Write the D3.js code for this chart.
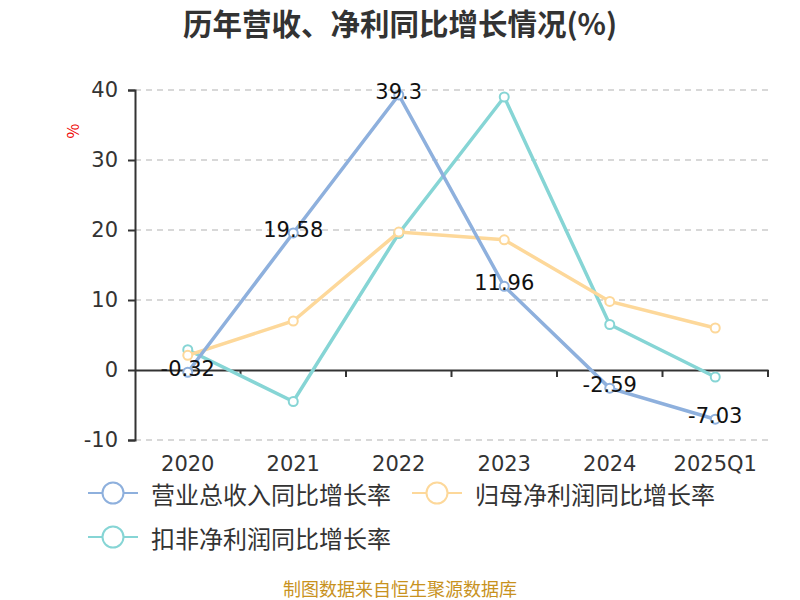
<!DOCTYPE html>
<html>
<head>
<meta charset="utf-8">
<script src="https://cdn.jsdelivr.net/npm/d3@7"></script>
<style>
body { margin: 0; background: #fff; }
text { font-family: "Noto Sans CJK SC", "Noto Sans", sans-serif; }
.num { font-family: "DejaVu Sans", "Noto Sans CJK SC", sans-serif; }
</style>
</head>
<body>
<div id="chart"></div>
<script>
// data
var categories = ["2020", "2021", "2022", "2023", "2024", "2025Q1"];
var revenue = [-0.32, 19.58, 39.3, 11.96, -2.59, -7.03];
var netProfit = [2.1, 7.0, 19.7, 18.6, 9.8, 6.0];
var deductedProfit = [2.9, -4.5, 19.5, 39.0, 6.5, -1.0];
var seriesNames = ["营业总收入同比增长率", "归母净利润同比增长率", "扣非净利润同比增长率"];
var yTicks = [-10, 0, 10, 20, 30, 40];

var colors = ["#8eb0dd", "#fdd89a", "#86d5d5"];
var w = 800, h = 600;
var margin = {left: 135, right: 32, top: 90, bottom: 160};

var svg = d3.select("#chart").append("svg")
    .attr("width", w)
    .attr("height", h);

var x = d3.scaleBand()
    .domain(categories)
    .range([margin.left, w - margin.right]);

var y = d3.scaleLinear()
    .domain([-10, 40])
    .range([h - margin.bottom, margin.top]);

// title
svg.append("text")
    .attr("x", 400).attr("y", 22)
    .attr("text-anchor", "middle")
    .attr("dominant-baseline", "central")
    .style("font-size", "29.5px")
    .style("font-weight", "bold")
    .style("fill", "#333")
    .text("历年营收、净利同比增长情况(%)");

// unit
svg.append("text")
    .attr("transform", "translate(72,131) rotate(-90)")
    .attr("text-anchor", "middle")
    .attr("dominant-baseline", "central")
    .style("font-size", "16px")
    .style("fill", "#e00")
    .text("%");

// grid
svg.append("g").selectAll("line")
    .data(yTicks.filter(function(d) { return d != 0; }))
    .enter().append("line")
    .attr("x1", margin.left).attr("x2", w - margin.right)
    .attr("y1", function(d) { return y(d); })
    .attr("y2", function(d) { return y(d); })
    .attr("stroke", "#ccc")
    .attr("stroke-width", 1.5)
    .attr("stroke-dasharray", "6,5");

// y axis
var yAxis = d3.axisLeft(y).tickValues(yTicks).tickSize(7).tickPadding(10)
    .tickFormat(function(d) { return String(d); });
var gy = svg.append("g")
    .attr("transform", "translate(" + margin.left + ",0)")
    .call(yAxis);
gy.select(".domain").attr("stroke", "#333").attr("stroke-width", 2);
gy.selectAll(".tick line").attr("stroke", "#333").attr("stroke-width", 2);
gy.selectAll(".tick text")
    .attr("class", "num")
    .style("font-size", "21px")
    .style("fill", "#333")
    .style("font-family", "'DejaVu Sans', sans-serif");

// x axis at zero
var xAxis = d3.axisBottom(x).tickSize(0).tickFormat("");
var gx = svg.append("g")
    .attr("transform", "translate(0," + y(0) + ")")
    .call(xAxis);
gx.select(".domain").attr("stroke", "#333").attr("stroke-width", 2);

var bounds = categories.map(function(c) { return x(c); }).concat([x.range()[1]]).slice(1);
gx.selectAll(".bticks").data(bounds).enter().append("line")
    .attr("x1", function(d) { return d; }).attr("x2", function(d) { return d; })
    .attr("y1", 0).attr("y2", 7)
    .attr("stroke", "#333").attr("stroke-width", 2);

// x labels
svg.append("g").selectAll("text")
    .data(categories)
    .enter().append("text")
    .attr("class", "num")
    .attr("x", function(d) { return x(d) + x.bandwidth() / 2; })
    .attr("y", 464)
    .attr("text-anchor", "middle")
    .attr("dominant-baseline", "central")
    .style("font-size", "21px")
    .style("fill", "#333")
    .text(function(d) { return d; });

// lines
var allSeries = [revenue, netProfit, deductedProfit];
var line = d3.line()
    .x(function(d, i) { return x(categories[i]) + x.bandwidth() / 2; })
    .y(function(d) { return y(d); });

[2, 1, 0].forEach(function(k) {
    var vals = allSeries[k];
    svg.append("path")
        .datum(vals)
        .attr("d", line)
        .attr("fill", "none")
        .attr("stroke", colors[k])
        .attr("stroke-width", 3.5);
    svg.append("g").selectAll("circle")
        .data(vals)
        .enter().append("circle")
        .attr("cx", function(d, i) { return x(categories[i]) + x.bandwidth() / 2; })
        .attr("cy", function(d) { return y(d); })
        .attr("r", 4.5)
        .attr("fill", "#fff")
        .attr("stroke", colors[k])
        .attr("stroke-width", 2);
});

// value labels for revenue
svg.append("g").selectAll("text")
    .data(revenue)
    .enter().append("text")
    .attr("class", "num")
    .attr("x", function(d, i) { return x(categories[i]) + x.bandwidth() / 2; })
    .attr("y", function(d) { return y(d) - 3; })
    .attr("text-anchor", "middle")
    .attr("dominant-baseline", "central")
    .style("font-size", "21px")
    .style("fill", "#111")
    .text(function(d) { return d; });

// legend
var legendPos = [[113, 493], [437, 493], [113, 537]];
var lg = svg.append("g").selectAll("g")
    .data(seriesNames)
    .enter().append("g")
    .attr("transform", function(d, i) { return "translate(" + legendPos[i][0] + "," + legendPos[i][1] + ")"; });
lg.append("line")
    .attr("x1", -25).attr("x2", 25)
    .attr("stroke", function(d, i) { return colors[i]; })
    .attr("stroke-width", 2);
lg.append("circle")
    .attr("r", 10.5)
    .attr("fill", "#fff")
    .attr("stroke", function(d, i) { return colors[i]; })
    .attr("stroke-width", 2);
lg.append("text")
    .attr("x", 38)
    .attr("dominant-baseline", "central")
    .style("font-size", "24px")
    .style("fill", "#333")
    .text(function(d) { return d; });

// footer
svg.append("text")
    .attr("x", 400).attr("y", 588)
    .attr("text-anchor", "middle")
    .attr("dominant-baseline", "central")
    .style("font-size", "18px")
    .style("fill", "#c8921e")
    .text("制图数据来自恒生聚源数据库");
</script>
</body>
</html>
